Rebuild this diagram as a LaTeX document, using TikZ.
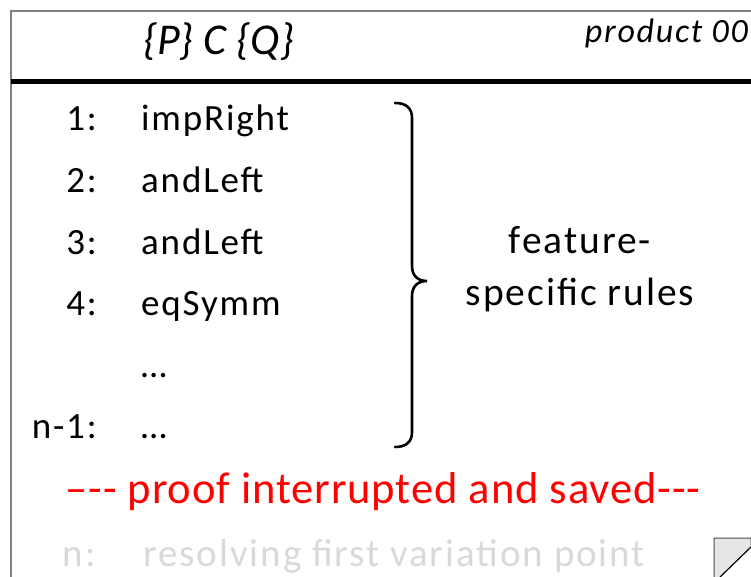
\documentclass[tikz,border=0pt]{standalone}
\usepackage{fontspec}
\setmainfont{Carlito}
\newfontfamily\spacedfont[LetterSpace=5]{Carlito}
\definecolor{framegray}{HTML}{7F7F7F}
\definecolor{fadedgray}{HTML}{D9D9D9}
\definecolor{curlgray}{HTML}{E6E6E6}
\begin{document}
\begin{tikzpicture}[x=1pt,y=-1pt,
  txt/.style={inner sep=0pt, font=\spacedfont\fontsize{37}{40}\selectfont},
  num/.style={txt, anchor=base east},
  rulename/.style={txt, anchor=base west},
  sidetxt/.style={inner sep=0pt, anchor=base, font=\spacedfont\fontsize{39.5}{44}\selectfont},
  headtxt/.style={inner sep=0pt, anchor=base west, font=\itshape\fontsize{44}{48}\selectfont}]
\useasboundingbox (0,0) rectangle (751,577);

% frame of the proof sheet
\draw[framegray, line width=1.5pt] (11,577) -- (11,11) -- (751,11);
\draw[line width=5pt] (11,82) -- (751,82);

% header
\node[headtxt] (triple) at (143,55) {\{P\} C \{Q\}};
\node[inner sep=0pt, anchor=base east, font=\spacedfont\itshape\fontsize{34}{38}\selectfont] (prod) at (748,43) {product 00};

% rule applications
\node[num] (n1) at (97,131) {1:};
\node[rulename] (r1) at (141,131) {impRight};
\node[num] (n2) at (97,192.5) {2:};
\node[rulename] (r2) at (141,192.5) {andLeft};
\node[num] (n3) at (97,254) {3:};
\node[rulename] (r3) at (141,254) {andLeft};
\node[num] (n4) at (97,315.5) {4:};
\node[rulename] (r4) at (141,315.5) {eqSymm};
\node[rulename] (r5) at (141,377) {…};
\node[num] (n6) at (97,438.5) {n-1:};
\node[rulename] (r6) at (141,438.5) {…};

% brace grouping the feature-specific rules
\coordinate (btop) at (395,103);
\coordinate (btip) at (427,281);
\coordinate (bbot) at (395,447);
\draw[line width=2.6pt, line cap=round]
  (btop) .. controls (406,103) and (412,108) .. (412,118)
  -- (412,266) .. controls (412,276) and (418,281) .. (btip)
  .. controls (418,281) and (412,286) .. (412,296)
  -- (412,432) .. controls (412,442) and (406,447) .. (bbot);
\node[sidetxt] (fs1) at (580,253) {feature-};
\node[sidetxt] (fs2) at (580,305) {specific rules};

% interruption marker
\node[inner sep=0pt, anchor=base, text=red, font=\addfontfeature{LetterSpace=2}\fontsize{44.6}{48}\selectfont] (stop) at (383,503) {--{}-{}- proof interrupted and saved-{}-{}-};

% next, not yet executed step
\node[inner sep=0pt, anchor=base east, text=fadedgray, font=\spacedfont\fontsize{39}{42}\selectfont] (nn) at (96,566) {n:};
\node[inner sep=0pt, anchor=base west, text=fadedgray, font=\spacedfont\fontsize{39}{42}\selectfont] (rn) at (143,566) {resolving first variation point};

% curled page corner
\filldraw[fill=curlgray, draw=black!70, line width=1pt]
  (714,577) -- (714,538) -- (751,538) -- (751,547) -- (720,577);
\draw[line width=1pt] (751,547) -- (720,577);
\end{tikzpicture}
\end{document}
